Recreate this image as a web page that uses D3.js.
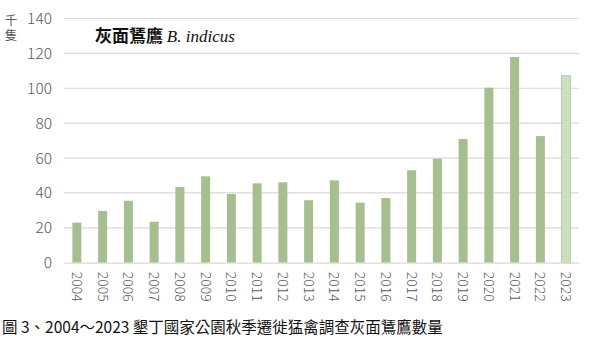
<!DOCTYPE html>
<html><head><meta charset="utf-8">
<script src="https://cdn.jsdelivr.net/npm/d3@7"></script>
<style>
html,body{margin:0;padding:0;background:#fff;}
svg{display:block;}
</style></head>
<body>
<script>
const years = ["2004","2005","2006","2007","2008","2009","2010","2011","2012","2013","2014","2015","2016","2017","2018","2019","2020","2021","2022","2023"];
const counts = [23,29.7,35.5,23.5,43.4,49.5,39.4,45.5,46.1,35.8,47.2,34.4,37.1,53,59.6,70.9,100.3,117.9,72.6,107.2];
const yTicks = [0,20,40,60,80,100,120,140];
const titleCN = "灰面鵟鷹";
const titleLatin = "B. indicus";
const unitLabel = "千隻";
const caption = "圖 3、2004～2023 墾丁國家公園秋季遷徙猛禽調查灰面鵟鷹數量";

const W = 593, H = 348;
const margin = {left:64, right:14, top:18.5, bottom:85.3};
const svg = d3.select("body").append("svg").attr("width",W).attr("height",H);
const defs = svg.append("defs");
const pat = defs.append("pattern").attr("id","dots").attr("width",2).attr("height",2).attr("patternUnits","userSpaceOnUse");
pat.append("rect").attr("width",2).attr("height",2).attr("fill","#d3e2c6");
pat.append("rect").attr("width",1).attr("height",1).attr("fill","#c2d6b0");

const x = d3.scaleBand().domain(years).range([margin.left, W-margin.right]).paddingInner(0.65).paddingOuter(0.325);
const y = d3.scaleLinear().domain([0,140]).range([H-margin.bottom, margin.top]);

// gridlines
svg.append("g").selectAll("line").data(yTicks.slice(1)).join("line")
  .attr("x1",margin.left).attr("x2",W-margin.right)
  .attr("y1",d=>y(d)).attr("y2",d=>y(d))
  .attr("stroke","#d9d9d9").attr("stroke-width",1.2);

// y axis labels
const font = "'Noto Sans CJK TC','Noto Sans',sans-serif";
const yAxis = d3.axisLeft(y).tickValues(yTicks).tickSize(0).tickPadding(12);
const gy = svg.append("g").attr("transform",`translate(${margin.left},0)`).call(yAxis);
gy.select(".domain").remove();
gy.selectAll("text").attr("font-family",font).attr("font-size",15.5).attr("fill","#595959").attr("font-weight",300);

// bars
svg.append("g").selectAll("rect").data(years).join("rect")
  .attr("x",d=>x(d)).attr("width",x.bandwidth())
  .attr("y",(d,i)=>y(counts[i])).attr("height",(d,i)=>y(0)-y(counts[i]))
  .attr("fill",(d,i)=> i===years.length-1 ? "url(#dots)" : "#a6bf8f")
  .attr("stroke",(d,i)=> i===years.length-1 ? "#b5cca0" : "none")
  .attr("stroke-width",1);

// x axis
const xAxis = d3.axisBottom(x).tickSize(0).tickPadding(0);
const gx = svg.append("g").attr("transform",`translate(0,${y(0)})`).call(xAxis);
gx.select(".domain").attr("stroke","#d9d9d9").attr("stroke-width",1.2);
gx.selectAll("text").attr("font-family",font).attr("font-size",14).attr("fill","#595959")
  .attr("font-weight",300)
  .attr("transform","rotate(90)").attr("text-anchor","start").attr("dy","0.35em").attr("x",9).attr("y",0);

// unit label (vertical text)
svg.append("text").attr("x",11).attr("y",14)
  .style("writing-mode","vertical-rl").attr("letter-spacing",2)
  .attr("font-family",font).attr("font-size",12.5).attr("fill","#595959").text(unitLabel);

// title
const t = svg.append("text").attr("x",95).attr("y",42).attr("font-size",17);
t.append("tspan").attr("font-family","'Noto Sans CJK TC',sans-serif").attr("font-weight",600).attr("fill","#111").text(titleCN+" ");
t.append("tspan").attr("font-family","'Liberation Serif',serif").attr("font-style","italic").attr("fill","#111").text(titleLatin);

// caption
svg.append("text").attr("x",2).attr("y",333).attr("font-family",font).attr("font-size",15.5).attr("fill","#111").text(caption);
</script>
</body></html>
